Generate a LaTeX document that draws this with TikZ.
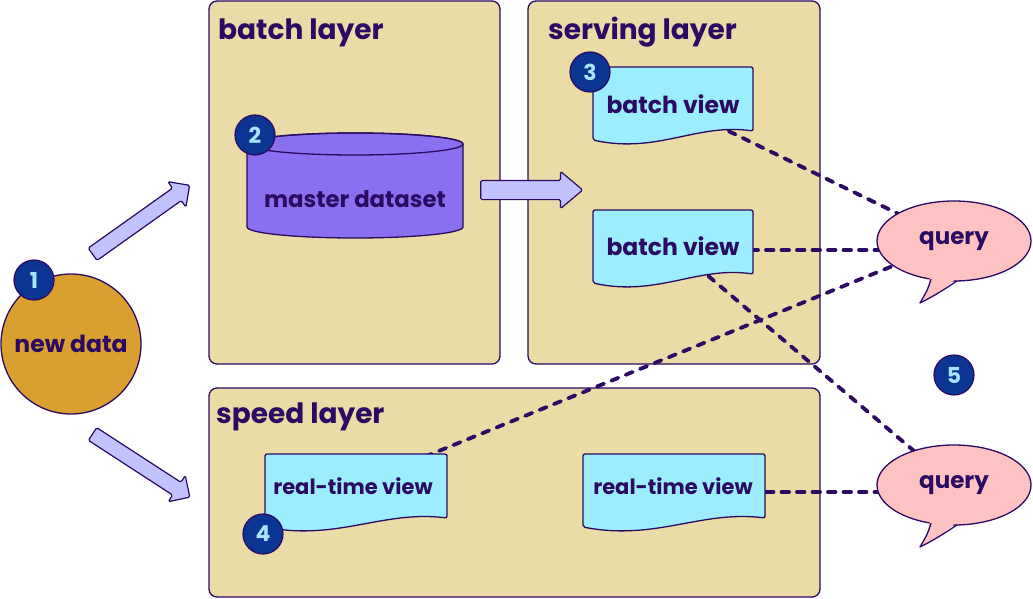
\documentclass[tikz,border=0pt]{standalone}
\usepackage{fontspec}
\setmainfont{Poppins}
\usetikzlibrary{shapes.arrows,shapes.geometric,calc}
\pgfdeclarelayer{bg}\pgfdeclarelayer{lines}\pgfdeclarelayer{shapes}
\pgfsetlayers{bg,lines,shapes,main}
\definecolor{ink}{HTML}{2A0A62}
\definecolor{panelc}{HTML}{EBDBA6}
\definecolor{newdatac}{HTML}{D9A030}
\definecolor{arrowc}{HTML}{C2C2FF}
\definecolor{cylc}{HTML}{8A70EE}
\definecolor{docc}{HTML}{9CEEFF}
\definecolor{queryc}{HTML}{FFC2C2}
\definecolor{badgec}{HTML}{0B3592}
\definecolor{badget}{HTML}{A6E4FF}
\newcommand\docpath[3]{%
  \path[docshape] ({#1-#3/2},{#2-37}) -- ({#1+#3/2},{#2-37}) -- ({#1+#3/2},{#2+27})
    .. controls ({#1+#3/2-0.35*#3},{#2+19}) and ({#1-#3/2+0.4*#3},{#2+50}) .. ({#1-#3/2},{#2+36}) -- cycle;}
\newcommand\tailpath[1]{%
  \begin{scope}[shift={(#1.center)}]
    \fill[queryc] (-24,35) .. controls (-26,48) .. (-34,62) .. controls (-18,54) and (-6,46) .. (4,35) -- cycle;
    \draw[ink, line width=1.3pt, line join=round] (-23,38) .. controls (-26,48) .. (-34,62) .. controls (-18,54) and (-6,46) .. (3,39.9);
  \end{scope}}
\begin{document}
\begin{tikzpicture}[x=1pt,y=-1pt,
  panel/.style={draw=ink, line width=1.3pt, fill=panelc, rounded corners=8pt, inner sep=0},
  ptitle/.style={font=\fontsize{28}{32}\selectfont\bfseries, text=ink, anchor=base west, inner sep=0},
  lbl/.style={font=\fontsize{23.5}{26}\selectfont\bfseries, text=ink, inner sep=0},
  badge/.style={circle, draw=ink, line width=1.2pt, fill=badgec, minimum size=40pt, inner sep=0, text=badget, font=\fontsize{22}{22}\selectfont\bfseries},
  fat/.style={single arrow, draw=ink, line width=1.2pt, fill=arrowc, inner xsep=0pt, single arrow head indent=0pt, rounded corners=1.5pt},
  link/.style={draw=ink, line width=3.8pt, line cap=round, dash pattern=on 7.5pt off 8pt},
  docshape/.style={draw=ink, line width=1.3pt, fill=docc, rounded corners=2pt},
  query/.style={ellipse, draw=ink, line width=1.3pt, fill=queryc, minimum width=154pt, minimum height=80pt, inner sep=0, text=ink, font=\fontsize{23}{26}\selectfont\bfseries}]
\useasboundingbox (0,0) rectangle (1033,599);

% panels
\begin{pgfonlayer}{bg}
\fill[white] (0,0) rectangle (1033,599);
\node[panel, minimum width=291pt, minimum height=363pt] (batch) at (354.5,182.5) {};
\node[panel, minimum width=292pt, minimum height=363pt] (serving) at (674,182.5) {};
\node[panel, minimum width=611pt, minimum height=209pt] (speed) at (514.5,492.5) {};
\end{pgfonlayer}
\node[ptitle] (tbatch) at (218,40) {batch layer};
\node[ptitle] (tserving) at (548,40) {serving layer};
\node[ptitle] (tspeed) at (216,423) {speed layer};

% new data
\node[circle, draw=ink, line width=1.3pt, fill=newdatac, minimum size=140pt, inner sep=0, text=ink, font=\fontsize{23.5}{26}\selectfont\bfseries] (nd) at (71,344) {new data};
\node[badge] (b1) at (34,280) {1};

% fat arrows
\node[fat, inner ysep=7pt, single arrow head extend=8pt, minimum height=119pt, rotate=35.4] (a1) at (138,222) {};
\node[fat, inner ysep=7pt, single arrow head extend=8pt, minimum height=116pt, rotate=-33] (a2) at (138,463.5) {};
\node[fat, inner ysep=9pt, single arrow head extend=9pt, single arrow tip angle=80, minimum height=102pt] (a3) at (526,190) {};

% master dataset cylinder
\fill[cylc, draw=ink, line width=1.3pt] (247,144) -- (247,227) arc[start angle=180, end angle=0, x radius=108, y radius=11] -- (463,144) arc[start angle=0, end angle=-180, x radius=108, y radius=11] -- cycle;
\draw[ink, line width=1.3pt] (355,144) ellipse [x radius=108, y radius=11];
\node[lbl, font=\fontsize{22.8}{26}\selectfont\bfseries] (md) at (355,199) {master dataset};
\node[badge] (b2) at (255,135) {2};

% views
\begin{pgfonlayer}{shapes}
\docpath{673}{104}{160}
\docpath{673}{247}{160}
\docpath{356}{491}{182}
\docpath{674}{491}{182}
\end{pgfonlayer}
\node[lbl] (bv1) at (673,104) {batch view};
\node[lbl] (bv2) at (673,246) {batch view};
\node[lbl, font=\fontsize{21}{26}\selectfont\bfseries] (rtv1) at (353,486) {real-time view};
\node[lbl, font=\fontsize{21}{26}\selectfont\bfseries] (rtv2) at (673,486) {real-time view};
\node[badge] (b3) at (590,72) {3};
\node[badge] (b4) at (263,534) {4};

% queries
\node[query] (q1) at (954,241) {query};
\node[query] (q2) at (954,485) {query};
\tailpath{q1}
\tailpath{q2}
\node[badge] (b5) at (954,375) {5};

% dashed links
\begin{pgfonlayer}{lines}
\draw[link] (bv1.center) -- (q1.center);
\draw[link] ($(bv2.center)+(0,4)$) -- ($(q1.center)+(0,9)$);
\draw[link] (rtv1.center) -- (q1.center);
\draw[link] (bv2.center) -- (q2.center);
\draw[link] ($(rtv2.center)+(0,6)$) -- ($(q2.center)+(0,7)$);
\end{pgfonlayer}
\end{tikzpicture}
\end{document}
